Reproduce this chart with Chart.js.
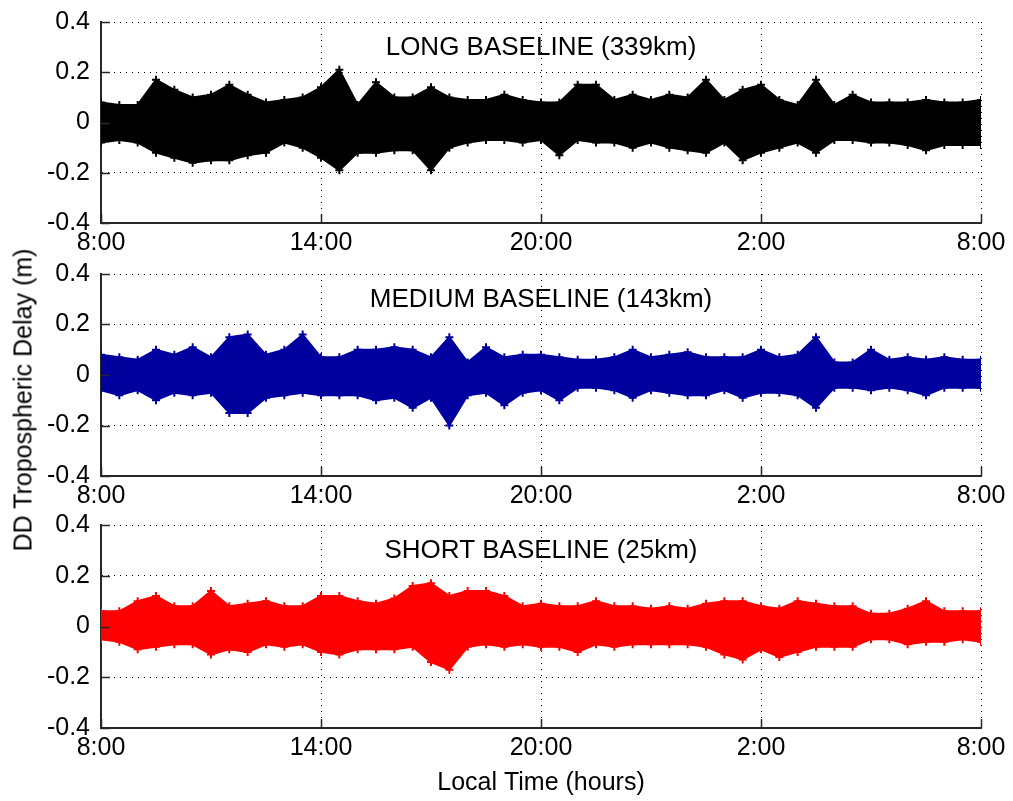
<!DOCTYPE html>
<html>
<head>
<meta charset="utf-8">
<title>DD Tropospheric Delay</title>
<script src="https://cdn.jsdelivr.net/npm/chart.js"></script>
<style>
  body { margin: 0; background: #fff; }
  #wrap { position: relative; width: 1013px; height: 801px; overflow: hidden; }
  #wrap canvas { position: absolute; left: 0; }
  #ylabel {
    position: absolute; left: 23px; top: 400px;
    transform: translate(-50%, -50%) rotate(-90deg);
    white-space: nowrap;
    font: 25px "Liberation Sans", Arial, sans-serif;
    color: #000;
  }
</style>
</head>
<body>
<div id="wrap">
  <canvas id="longChart" width="1013" height="262" style="top:0px"></canvas>
  <canvas id="mediumChart" width="1013" height="262" style="top:252px"></canvas>
  <canvas id="shortChart" width="1013" height="298" style="top:503px"></canvas>
  <div id="ylabel">DD Tropospheric Delay (m)</div>
</div>
<script>
// hours after 8:00 local time, half-hour steps
const hours = [0, 0.5, 1, 1.5, 2, 2.5, 3, 3.5, 4, 4.5, 5, 5.5, 6, 6.5, 7, 7.5, 8, 8.5, 9, 9.5, 10, 10.5, 11, 11.5, 12,
  12.5, 13, 13.5, 14, 14.5, 15, 15.5, 16, 16.5, 17, 17.5, 18, 18.5, 19, 19.5, 20, 20.5, 21, 21.5, 22, 22.5, 23, 23.5, 24];
const timeLabels = ['8:00', '14:00', '20:00', '2:00', '8:00'];
const xAxisTitle = 'Local Time (hours)';

// upper / lower envelope of the scatter cloud (m)
const longUpper = [0.08, 0.07, 0.07, 0.17, 0.13, 0.10, 0.11, 0.15, 0.11, 0.08, 0.09, 0.10, 0.14, 0.21, 0.07, 0.16, 0.10, 0.10, 0.14, 0.10, 0.09, 0.09, 0.11, 0.09, 0.08,
  0.08, 0.15, 0.15, 0.09, 0.11, 0.09, 0.11, 0.10, 0.17, 0.09, 0.13, 0.15, 0.09, 0.07, 0.17, 0.07, 0.11, 0.08, 0.08, 0.08, 0.09, 0.08, 0.08, 0.09];
const longLower = [-0.08, -0.07, -0.08, -0.12, -0.14, -0.16, -0.15, -0.15, -0.13, -0.12, -0.08, -0.10, -0.14, -0.19, -0.12, -0.12, -0.11, -0.11, -0.19, -0.10, -0.08, -0.07, -0.07, -0.08, -0.07,
  -0.13, -0.07, -0.08, -0.08, -0.10, -0.08, -0.10, -0.11, -0.12, -0.08, -0.15, -0.12, -0.10, -0.08, -0.12, -0.07, -0.07, -0.08, -0.08, -0.09, -0.11, -0.09, -0.09, -0.09];

const mediumUpper = [0.08, 0.07, 0.06, 0.10, 0.08, 0.11, 0.07, 0.15, 0.16, 0.08, 0.10, 0.16, 0.07, 0.07, 0.10, 0.10, 0.11, 0.10, 0.07, 0.15, 0.05, 0.11, 0.07, 0.08, 0.08,
  0.07, 0.06, 0.06, 0.07, 0.10, 0.07, 0.08, 0.09, 0.07, 0.07, 0.07, 0.10, 0.07, 0.08, 0.15, 0.05, 0.05, 0.10, 0.06, 0.07, 0.06, 0.07, 0.06, 0.06];
const mediumLower = [-0.06, -0.08, -0.06, -0.10, -0.07, -0.08, -0.07, -0.15, -0.15, -0.09, -0.08, -0.07, -0.08, -0.08, -0.08, -0.10, -0.09, -0.13, -0.09, -0.20, -0.08, -0.07, -0.12, -0.07, -0.06,
  -0.10, -0.05, -0.05, -0.06, -0.09, -0.06, -0.07, -0.08, -0.08, -0.06, -0.09, -0.07, -0.07, -0.08, -0.13, -0.05, -0.05, -0.06, -0.05, -0.06, -0.08, -0.05, -0.05, -0.05];

const shortUpper = [0.06, 0.06, 0.10, 0.12, 0.08, 0.08, 0.14, 0.08, 0.09, 0.10, 0.08, 0.08, 0.12, 0.12, 0.10, 0.09, 0.11, 0.16, 0.17, 0.12, 0.14, 0.14, 0.12, 0.08, 0.09,
  0.08, 0.08, 0.10, 0.08, 0.08, 0.07, 0.08, 0.07, 0.09, 0.10, 0.10, 0.08, 0.07, 0.10, 0.09, 0.08, 0.08, 0.05, 0.05, 0.07, 0.10, 0.06, 0.06, 0.06];
const shortLower = [-0.05, -0.06, -0.09, -0.08, -0.07, -0.07, -0.11, -0.09, -0.10, -0.07, -0.08, -0.07, -0.10, -0.11, -0.09, -0.09, -0.09, -0.08, -0.14, -0.17, -0.08, -0.07, -0.08, -0.07, -0.08,
  -0.08, -0.10, -0.07, -0.08, -0.07, -0.07, -0.07, -0.07, -0.08, -0.11, -0.13, -0.09, -0.12, -0.10, -0.08, -0.08, -0.08, -0.05, -0.05, -0.07, -0.06, -0.06, -0.05, -0.06];

Chart.defaults.font.family = '"Liberation Sans", Arial, sans-serif';
Chart.defaults.font.size = 25;
Chart.defaults.color = '#000';

const AXIS_COLOR = '#262626';

// matlab style: ticks point into the plot, title sits inside the axes
const insideStuff = {
  id: 'insideStuff',
  afterDatasetsDraw(chart, args, opts) {
    const ctx = chart.ctx;
    const area = chart.chartArea;
    const xs = chart.scales.x;
    const ys = chart.scales.y;
    ctx.save();
    ctx.strokeStyle = AXIS_COLOR;
    ctx.lineWidth = 1.5;
    ctx.beginPath();
    ys.ticks.forEach(t => {
      const py = Math.round(ys.getPixelForValue(t.value)) + 0.5;
      ctx.moveTo(area.left, py);
      ctx.lineTo(area.left + 9, py);
    });
    xs.ticks.forEach(t => {
      const px = Math.round(xs.getPixelForValue(t.value)) + 0.5;
      ctx.moveTo(px, area.bottom);
      ctx.lineTo(px, area.bottom - 9);
    });
    ctx.stroke();
    ctx.fillStyle = '#000';
    ctx.font = '26px "Liberation Sans", Arial, sans-serif';
    ctx.textAlign = 'center';
    ctx.textBaseline = 'middle';
    ctx.fillText(opts.text, (area.left + area.right) / 2, area.top + 26);
    ctx.restore();
  }
};

function makePanel(id, title, upper, lower, color, padTop, xHeight, showXTitle) {
  const ctx = document.getElementById(id);
  const edge = {
    borderColor: color,
    backgroundColor: color,
    borderWidth: 2,
    pointStyle: 'cross',
    pointRadius: 4,
    pointBorderWidth: 2
  };
  return new Chart(ctx, {
    type: 'line',
    data: {
      datasets: [
        Object.assign({ data: hours.map((h, i) => ({ x: h, y: lower[i] })), fill: false }, edge),
        Object.assign({ data: hours.map((h, i) => ({ x: h, y: upper[i] })), fill: '-1' }, edge)
      ]
    },
    options: {
      responsive: false,
      animation: false,
      layout: { padding: { left: 0, right: 32, top: padTop, bottom: 0 } },
      plugins: {
        legend: { display: false },
        tooltip: { enabled: false },
        insideStuff: { text: title }
      },
      scales: {
        x: {
          type: 'linear',
          min: 0,
          max: 24,
          grid: { color: '#000', lineWidth: 1, drawTicks: false },
          border: { display: true, color: AXIS_COLOR, width: 2, dash: [1, 5] },
          ticks: {
            stepSize: 6,
            padding: 5,
            maxRotation: 0,
            autoSkip: false,
            callback: v => timeLabels[Math.round(v / 6)]
          },
          title: {
            display: showXTitle,
            text: xAxisTitle,
            padding: { top: 0, bottom: 3 }
          },
          afterFit: s => { s.height = xHeight; s.paddingLeft = 0; s.paddingRight = 0; }
        },
        y: {
          min: -0.4,
          max: 0.4,
          grid: { color: '#000', lineWidth: 1, drawTicks: false },
          border: { display: true, color: AXIS_COLOR, width: 2, dash: [1, 5] },
          ticks: {
            stepSize: 0.2,
            padding: 11,
            callback: v => {
              const r = Math.round(v * 10) / 10;
              return r === 0 ? '0' : String(r);
            }
          },
          afterFit: s => { s.width = 101; s.paddingTop = 0; s.paddingBottom = 0; }
        }
      }
    },
    plugins: [insideStuff]
  });
}

makePanel('longChart', 'LONG BASELINE (339km)', longUpper, longLower, '#000000', 22, 39, false);
makePanel('mediumChart', 'MEDIUM BASELINE (143km)', mediumUpper, mediumLower, '#00009F', 22, 38, false);
makePanel('shortChart', 'SHORT BASELINE (25km)', shortUpper, shortLower, '#FF0000', 22, 73, true);
</script>
</body>
</html>
